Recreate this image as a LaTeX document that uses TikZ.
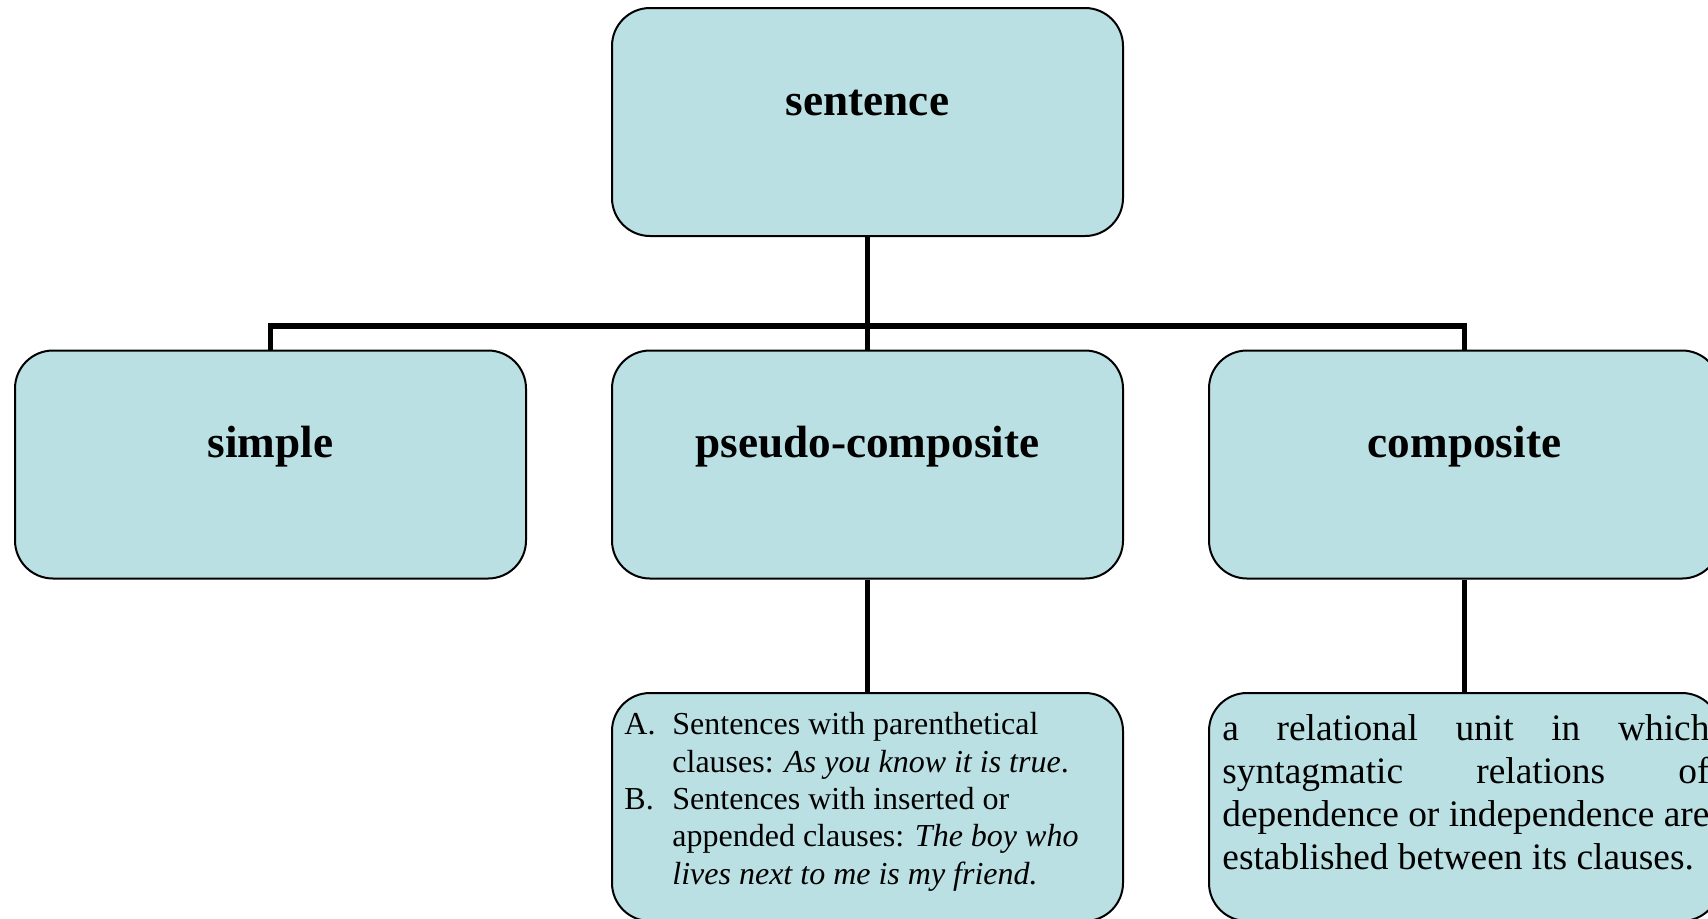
\documentclass[tikz,border=0pt]{standalone}
\usepackage{fontspec}
\setmainfont{Liberation Serif}
\usepackage{tikz}
\usetikzlibrary{positioning, calc}
\definecolor{boxFill}{HTML}{BAE0E3}
\tikzset{
  unitbox/.style={draw=black, line width=1pt, fill=boxFill, rounded corners=19pt,
    minimum width=255.5pt, minimum height=114pt, inner sep=0pt},
  headtext/.style={font=\fontsize{22.6}{27}\selectfont\bfseries, anchor=base, inner sep=0pt},
  listtext/.style={font=\fontsize{16}{18.7}\selectfont, align=left, inner sep=0pt},
  deftext/.style={font=\fontsize{18.7}{21.5}\selectfont, text width=243.5pt,
    align=justify, inner sep=0pt},
  link/.style={line width=2.9pt},
}

\begin{document}
\begin{tikzpicture}[x=0.5pt, y=-0.5pt]
  \useasboundingbox (0,0) rectangle (1708,918);
  \clip (0,0) rectangle (1708,918);
  \def\rowy{464.5}
  \def\lab{24pt}
  \node[unitbox] (sentence) at (867.5,122) {};
  \node[headtext] (sentenceT) at (867.5,115) {sentence};
  \foreach \id/\x/\txt in {simple/270.5/simple, pseudo/867.5/pseudo-composite, composite/1464.5/composite} {
    \node[unitbox] (\id) at (\x,\rowy) {};
    \node[headtext] (\id T) at (\x,457) {\txt};
  }
  \node[unitbox] (pseudoEx) at (867.5,807) {};
  \node[unitbox] (compositeDef) at (1464.5,807) {};
  \node[listtext, anchor=north west] (pseudoExT) at (624,712) {%
    \makebox[\lab][l]{A.}Sentences with parenthetical\\
    \hspace*{\lab}clauses: \textit{As you know it is true}.\\
    \makebox[\lab][l]{B.}Sentences with inserted or\\
    \hspace*{\lab}appended clauses: \textit{The boy who}\\
    \hspace*{\lab}\textit{lives next to me is my friend.}};
  \node[deftext, anchor=north west] (compositeDefT) at (1222,714) {%
    a relational unit in which\linebreak syntagmatic relations of\linebreak
    dependence or independence are\linebreak established between its clauses.};
  \coordinate (bus) at (867.5,326);
  \draw[link] (sentence.south) -- (bus);
  \draw[link] (simple.north) |- (bus) -| (composite.north);
  \draw[link] (bus) -- (pseudo.north);
  \draw[link] (pseudo.south) -- (pseudoEx.north);
  \draw[link] (composite.south) -- (compositeDef.north);
\end{tikzpicture}
\end{document}
